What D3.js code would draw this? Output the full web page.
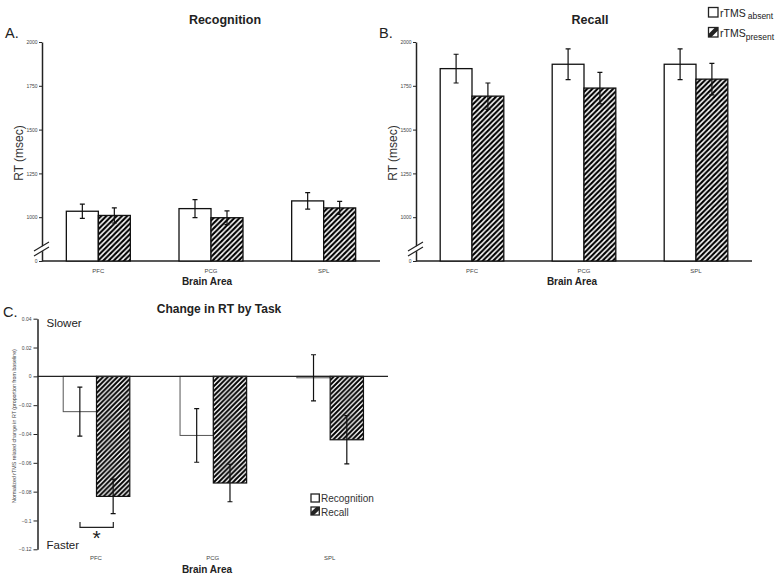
<!DOCTYPE html>
<html><head><meta charset="utf-8">
<script src="https://cdn.jsdelivr.net/npm/d3@7/dist/d3.min.js"></script>
<style>body{margin:0;background:#fff}svg{display:block}text{font-family:"Liberation Sans",Arial,sans-serif}</style>
</head><body>
<script>
// ---- data ----
const categories = ["PFC", "PCG", "SPL"];
const rtTicks = [1000, 1250, 1500, 1750, 2000];
const rtBreakLabel = "0";
const recogAbsent = [1034, 1049, 1093];
const recogAbsentErr = [41, 51, 47];
const recogPresent = [1010, 997, 1053];
const recogPresentErr = [43, 39, 37];
const recallAbsent = [1848, 1873, 1873];
const recallAbsentErr = [82, 88, 88];
const recallPresent = [1691, 1737, 1788];
const recallPresentErr = [75, 90, 90];
const changeTicks = [0.04, 0.02, 0, -0.02, -0.04, -0.06, -0.08, -0.1, -0.12];
const changeRecog = [-0.0245, -0.041, -0.001];
const changeRecogErr = [0.017, 0.0186, 0.016];
const changeRecall = [-0.0833, -0.074, -0.044];
const changeRecallErr = [0.012, 0.013, 0.0167];

const W = 781, H = 578;
const svg = d3.select("body").append("svg").attr("width", W).attr("height", H);
const defs = svg.append("defs");
function hatch(id, s, sw) {
  const p = defs.append("pattern").attr("id", id).attr("patternUnits", "userSpaceOnUse")
    .attr("width", s).attr("height", s);
  p.append("rect").attr("width", s).attr("height", s).attr("fill", "#fff");
  p.append("path").attr("d", `M0,${s} L${s},0 M${-s/2},${s/2} L${s/2},${-s/2} M${s/2},${s*1.5} L${s*1.5},${s/2}`)
    .attr("stroke", "#000").attr("stroke-width", sw);
}
hatch("hA", 5.2, 2.1);
hatch("hC", 4.8, 2.0);

const tickFont = 5, tickColor = "#444";

function rtPanel(opt) {
  const {x0, x1, yTop, yBot, title, letter, absent, absentErr, present, presentErr} = opt;
  const y = d3.scaleLinear().domain([750, 2000]).range([yBot, yTop]);
  const x = d3.scaleBand().domain(categories).range([x0, x1]);
  const bw = x.bandwidth();
  const sub = d3.scaleBand().domain(["a", "p"]).range([bw * 0.216, bw * 0.784]);
  const g = svg.append("g");
  const ax = g.append("g").attr("transform", `translate(${x0},0)`)
    .call(d3.axisLeft(y).tickValues([750].concat(rtTicks)).tickSize(3).tickSizeOuter(0)
      .tickFormat(d => d === 750 ? rtBreakLabel : d));
  ax.select(".domain").attr("stroke", "#222").attr("stroke-width", 1.5);
  ax.selectAll(".tick line").attr("stroke", "#222").attr("stroke-width", 1);
  ax.selectAll(".tick text").attr("font-size", tickFont).attr("fill", tickColor)
    .attr("font-family", "Liberation Sans, Arial").attr("x", -4.5);
  g.append("line").attr("x1", x0).attr("x2", x1).attr("y1", yBot).attr("y2", yBot)
    .attr("stroke", "#222").attr("stroke-width", 1.5);
  const series = [["a", absent, absentErr, "#fff"], ["p", present, presentErr, "url(#hA)"]];
  series.forEach(([k, vals, errs, fill]) => {
    g.selectAll(null).data(categories).enter().append("rect")
      .attr("x", d => x(d) + sub(k)).attr("width", sub.bandwidth())
      .attr("y", (d, i) => y(vals[i])).attr("height", (d, i) => yBot - y(vals[i]))
      .attr("fill", fill).attr("stroke", "#111").attr("stroke-width", 1.3);
  });
  series.forEach(([k, vals, errs]) => {
    categories.forEach((c, i) => {
      const cx = x(c) + sub(k) + sub.bandwidth() / 2;
      const t = y(vals[i] + errs[i]), b = y(vals[i] - errs[i]);
      g.append("path").attr("d", `M${cx - 2.5},${t}H${cx + 2.5}M${cx},${t}V${b}M${cx - 2.5},${b}H${cx + 2.5}`)
        .attr("stroke", "#111").attr("stroke-width", 1.2).attr("fill", "none");
    });
  });
  const by = y(750);
  g.append("polygon").attr("points", `${x0-8},${by-10} ${x0+8},${by-19} ${x0+8},${by-14} ${x0-8},${by-5}`).attr("fill", "#fff");
  g.append("path").attr("d", `M${x0-8},${by-10}L${x0+7},${by-19}M${x0-8},${by-5}L${x0+7},${by-14}`)
    .attr("stroke", "#222").attr("stroke-width", 1.2);
  g.selectAll(null).data(categories).enter().append("text")
    .attr("x", d => x(d) + bw / 2).attr("y", yBot + 11.5).attr("text-anchor", "middle")
    .attr("font-size", 6).attr("fill", tickColor).text(d => d);
  g.append("text").attr("x", (x0 + x1) / 2 + (letter === "A." ? -4 : -12)).attr("y", yBot + 24)
    .attr("text-anchor", "middle").attr("font-size", 10).attr("font-weight", "bold").attr("fill", "#222").text("Brain Area");
  g.append("text").attr("x", opt.titleX).attr("y", 23.5).attr("text-anchor", "middle")
    .attr("font-size", 12.5).attr("font-weight", "bold").attr("fill", "#222").text(title);
  g.append("text").attr("x", opt.letterX).attr("y", 38).attr("font-size", 14.5).attr("fill", "#222").text(letter);
  g.append("text").attr("transform", `translate(${x0 - 19},153) rotate(-90)`).attr("text-anchor", "middle")
    .attr("font-size", 12).attr("fill", "#333").text("RT (msec)");
}

rtPanel({x0: 42, x1: 380, yTop: 42, yBot: 261, title: "Recognition", titleX: 225, letter: "A.", letterX: 5,
  absent: recogAbsent, absentErr: recogAbsentErr, present: recogPresent, presentErr: recogPresentErr});
rtPanel({x0: 416, x1: 752, yTop: 42, yBot: 261, title: "Recall", titleX: 590, letter: "B.", letterX: 379,
  absent: recallAbsent, absentErr: recallAbsentErr, present: recallPresent, presentErr: recallPresentErr});

function legendBox(g, bx, by, w, h, hatched) {
  g.append("rect").attr("x", bx).attr("y", by).attr("width", w).attr("height", h)
    .attr("fill", "#fff").attr("stroke", "#222").attr("stroke-width", 1.3);
  if (hatched) {
    g.append("path").attr("d", `M${bx},${by + h}L${bx},${by + h - 3}L${bx + w - 3},${by}L${bx + w},${by}L${bx + w},${by + 3}L${bx + 3},${by + h}Z`)
      .attr("fill", "#222");
  }
}
const lg = svg.append("g");
legendBox(lg, 708.5, 7.5, 9.5, 9.5, false);
legendBox(lg, 708.5, 27.5, 9.5, 9.5, true);
const t1 = lg.append("text").attr("x", 720).attr("y", 17).attr("font-size", 10.5).attr("fill", "#222");
t1.append("tspan").text("rTMS");
t1.append("tspan").attr("dx", 2).attr("dy", 1.5).attr("font-size", 8.5).text("absent");
const t2 = lg.append("text").attr("x", 720).attr("y", 37).attr("font-size", 10.5).attr("fill", "#222");
t2.append("tspan").text("rTMS");
t2.append("tspan").attr("dy", 2.5).attr("font-size", 8.5).text("present");

(function () {
  const x0 = 37.5, x1 = 388, yTop = 318.7, yBot = 549.3;
  const y = d3.scaleLinear().domain([-0.12, 0.04]).range([yBot, yTop]);
  const x = d3.scaleBand().domain(categories).range([x0, x1]);
  const bw = x.bandwidth();
  const sub = d3.scaleBand().domain(["r", "c"]).range([bw * 0.22, bw * 0.79]);
  const g = svg.append("g");
  const ax = g.append("g").attr("transform", `translate(${x0},0)`)
    .call(d3.axisLeft(y).tickValues(changeTicks).tickSize(4).tickSizeOuter(0).tickFormat(d => d3.format("")(+d.toFixed(2))));
  ax.select(".domain").attr("stroke", "#222").attr("stroke-width", 1.5);
  ax.selectAll(".tick line").attr("stroke", "#222");
  ax.selectAll(".tick text").attr("font-size", tickFont).attr("fill", tickColor).attr("font-family", "Liberation Sans, Arial").attr("x", -6);
  const y0 = y(0);
  const series = [["r", changeRecog, changeRecogErr, "#fff", "#555", 1], ["c", changeRecall, changeRecallErr, "url(#hC)", "#111", 1.2]];
  series.forEach(([k, vals, errs, fill, stroke, sw]) => {
    g.selectAll(null).data(categories).enter().append("rect")
      .attr("x", d => x(d) + sub(k)).attr("width", sub.bandwidth())
      .attr("y", y0).attr("height", (d, i) => y(vals[i]) - y0)
      .attr("fill", fill).attr("stroke", stroke).attr("stroke-width", sw);
  });
  g.append("line").attr("x1", x0).attr("x2", x1).attr("y1", y0).attr("y2", y0).attr("stroke", "#222").attr("stroke-width", 1.3);
  series.forEach(([k, vals, errs]) => {
    categories.forEach((c, i) => {
      const cx = x(c) + sub(k) + sub.bandwidth() / 2;
      const t = y(vals[i] + errs[i]), b = y(vals[i] - errs[i]);
      g.append("path").attr("d", `M${cx - 2.5},${t}H${cx + 2.5}M${cx},${t}V${b}M${cx - 2.5},${b}H${cx + 2.5}`)
        .attr("stroke", "#111").attr("stroke-width", 1.2).attr("fill", "none");
    });
  });
  g.selectAll(null).data(categories).enter().append("text")
    .attr("x", d => x(d) + bw / 2).attr("y", 560).attr("text-anchor", "middle")
    .attr("font-size", 6).attr("fill", tickColor).text(d => d);
  g.append("text").attr("x", 207).attr("y", 573).attr("text-anchor", "middle")
    .attr("font-size", 10).attr("font-weight", "bold").attr("fill", "#222").text("Brain Area");
  g.append("text").attr("x", 219).attr("y", 312.5).attr("text-anchor", "middle")
    .attr("font-size", 12).attr("font-weight", "bold").attr("fill", "#222").text("Change in RT by Task");
  g.append("text").attr("x", 3).attr("y", 317).attr("font-size", 14.5).attr("fill", "#222").text("C.");
  g.append("text").attr("x", 46.5).attr("y", 327).attr("font-size", 11.5).attr("fill", "#222").text("Slower");
  g.append("text").attr("x", 46.5).attr("y", 549).attr("font-size", 11.5).attr("fill", "#222").text("Faster");
  g.append("text").attr("transform", `translate(16,426) rotate(-90)`).attr("text-anchor", "middle")
    .attr("font-size", 5.3).attr("fill", "#444").text("Normalized rTMS related change in RT (proportion from baseline)");
  g.append("path").attr("d", "M80,522V527.3H113.3V522").attr("fill", "none").attr("stroke", "#222").attr("stroke-width", 1.2);
  g.append("text").attr("x", 96.7).attr("y", 545).attr("text-anchor", "middle").attr("font-size", 21).attr("fill", "#222").text("*");
  legendBox(g, 311, 494, 8.3, 8, false);
  legendBox(g, 311, 507, 8.3, 8, true);
  g.append("text").attr("x", 321).attr("y", 502).attr("font-size", 10).attr("fill", "#333").text("Recognition");
  g.append("text").attr("x", 321).attr("y", 515.5).attr("font-size", 10).attr("fill", "#333").text("Recall");
})();
</script>
</body></html>
